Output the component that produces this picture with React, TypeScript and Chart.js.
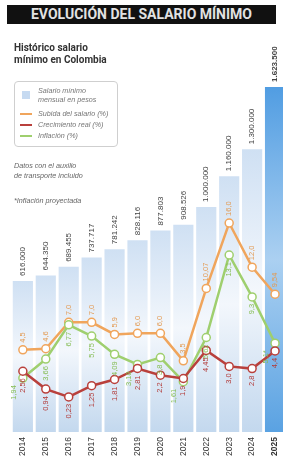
import React, { useEffect, useRef } from "react";
import { Chart, registerables } from "chart.js";

Chart.register(...registerables);

const years = ["2014", "2015", "2016", "2017", "2018", "2019", "2020", "2021", "2022", "2023", "2024", "2025"];
const salario = [616000, 644350, 689455, 737717, 781242, 828116, 877803, 908526, 1000000, 1160000, 1300000, 1623500];
const subida = [4.5, 4.6, 7.0, 7.0, 5.9, 6.0, 6.0, 3.5, 10.07, 16.0, 12.0, 9.54];
const crecimiento = [2.56, 0.94, 0.23, 1.25, 1.81, 2.81, 2.2, 1.9, 4.45, 3.0, 2.8, 4.4];
const inflacion = [1.94, 3.66, 6.77, 5.75, 4.09, 3.18, 3.8, 1.61, 5.62, 13.1, 9.3, 5.1];

const ORANGE = "#f0a55c";
const RED = "#b9403c";
const GREEN = "#9fcf6e";
const FONT = "'Liberation Sans Narrow', 'Liberation Sans', Arial, sans-serif";

const fmtMoney = (v: number) => String(v).replace(/\B(?=(\d{3})+(?!\d))/g, ".");
const fmtPct = (v: number) => (Number.isInteger(v) ? v.toFixed(1) : String(v)).replace(".", ",");

const Y_MIN = -168000;
const Y_MAX = 1898600;
const P_MIN = -2.95;
const P_MAX = 33.14;

const labelPlugin = {
  id: "rotLabels",
  afterDatasetsDraw(chart: any) {
    const ctx = chart.ctx;
    const redIdx = chart.data.datasets.findIndex((d: any) => d.kind === "red");
    const redMeta = redIdx >= 0 ? chart.getDatasetMeta(redIdx) : null;
    ctx.save();
    chart.data.datasets.forEach((ds: any, di: number) => {
      const meta = chart.getDatasetMeta(di);
      meta.data.forEach((el: any, i: number) => {
        const v = ds.data[i];
        let text: string;
        let x = el.x;
        let y: number;
        let align: CanvasTextAlign;
        if (ds.type === "bar") {
          text = fmtMoney(v);
          y = el.y - 5;
          align = "left";
          const last = i === ds.data.length - 1;
          ctx.font = (last ? "bold " : "") + "8px " + FONT;
          ctx.fillStyle = "#444";
        } else {
          text = fmtPct(v);
          if (ds.kind === "green" && i === ds.data.length - 1) text += "*";
          ctx.font = "7.5px " + FONT;
          ctx.fillStyle = ds.labelColor;
          if (ds.kind === "orange") {
            y = el.y - 7;
            align = "left";
          } else {
            y = el.y + 7;
            align = "right";
            if (ds.kind === "green" && redMeta) {
              const r = redMeta.data[i];
              if (r && Math.abs(r.y - el.y) < 10) x -= 9;
            }
          }
        }
        ctx.save();
        ctx.translate(x, y);
        ctx.rotate(-Math.PI / 2);
        ctx.textAlign = align!;
        ctx.textBaseline = "middle";
        ctx.fillText(text, 0, 0);
        ctx.restore();
      });
    });
    ctx.restore();
  },
};

function ChartCanvas() {
  const ref = useRef<HTMLCanvasElement | null>(null);
  useEffect(() => {
    const canvas = ref.current!;
    const lineDs = (data: number[], color: string, kind: string, labelColor: string, order: number) => ({
      type: "line",
      data,
      yAxisID: "y1",
      borderColor: color,
      borderWidth: 2.5,
      pointRadius: 4,
      pointBorderWidth: 1.5,
      pointBackgroundColor: "#ffffff",
      pointBorderColor: color,
      tension: 0,
      order,
      kind,
      labelColor,
    });
    const chart = new Chart(canvas, {
      type: "bar",
      data: {
        labels: years,
        datasets: [
          {
            type: "bar",
            data: salario,
            yAxisID: "y",
            base: Y_MIN,
            order: 10,
            categoryPercentage: 0.88,
            barPercentage: 1,
            borderWidth: 0,
            backgroundColor: (c: any) => {
              const chart = c.chart;
              const area = chart.chartArea;
              const last = c.dataIndex === salario.length - 1;
              if (!area || c.type !== "data") return last ? "#5ea3e2" : "#d4e3f3";
              const top = chart.scales.y.getPixelForValue(salario[c.dataIndex]);
              const g = chart.ctx.createLinearGradient(0, top, 0, area.bottom);
              if (last) {
                g.addColorStop(0, "#519de2");
                g.addColorStop(0.5, "#abd0f1");
                g.addColorStop(1, "#5aa2e2");
              } else {
                g.addColorStop(0, "#cfe0f3");
                g.addColorStop(0.5, "#f3f7fc");
                g.addColorStop(1, "#c3d8ee");
              }
              return g;
            },
          } as any,
          lineDs(subida, ORANGE, "orange", "#e39a52", 3) as any,
          lineDs(inflacion, GREEN, "green", "#86bd55", 2) as any,
          lineDs(crecimiento, RED, "red", "#b23a38", 1) as any,
        ],
      },
      options: {
        responsive: false,
        animation: false,
        devicePixelRatio: 1,
        layout: { padding: { left: 11.4, right: 2.4, top: 34, bottom: 0 } },
        plugins: { legend: { display: false }, tooltip: { enabled: false } },
        scales: {
          x: {
            grid: { display: false, drawTicks: false, tickLength: 0 },
            border: { display: false },
            afterFit: (s: any) => {
              s.height = 28;
            },
            ticks: {
              autoSkip: false,
              minRotation: 90,
              maxRotation: 90,
              padding: 5,
              color: "#333",
              font: (c: any) => ({
                family: FONT,
                size: 8.5,
                weight: c.index === years.length - 1 ? "bold" : "normal",
              }),
            },
          },
          y: { display: false, min: Y_MIN, max: Y_MAX },
          y1: { display: false, min: P_MIN, max: P_MAX },
        },
      } as any,
      plugins: [labelPlugin],
    });
    return () => chart.destroy();
  }, []);
  return (
    <canvas
      ref={ref}
      width={292}
      height={460}
      style={{ position: "absolute", left: 0, top: 0, width: 292, height: 460 }}
    />
  );
}

const legendItem = (swatch: React.ReactNode, text: React.ReactNode, top: number) => (
  <div style={{ position: "absolute", left: 0, top, width: 104, height: 12 }}>
    {swatch}
    <div style={{ position: "absolute", left: 23, top: 0, lineHeight: "9px", fontSize: 7.2, fontStyle: "italic", color: "#777" }}>
      {text}
    </div>
  </div>
);

const lineSwatch = (color: string) => (
  <div style={{ position: "absolute", left: 5, top: 3.5, width: 12, height: 2, background: color }} />
);

export default function App() {
  return (
    <div
      style={{
        position: "fixed",
        left: 0,
        top: 0,
        width: 283,
        height: 460,
        overflow: "hidden",
        background: "#fff",
        fontFamily: "'Liberation Sans', Arial, sans-serif",
      }}
    >
      <ChartCanvas />
      <div
        style={{
          position: "absolute",
          left: 7,
          top: 5,
          width: 269,
          height: 19,
          background: "#111",
          color: "#e2e2e2",
          fontFamily: "Roboto, sans-serif",
          fontWeight: 700,
          fontSize: 14,
          lineHeight: "19px",
          textAlign: "center",
        }}
      >
        EVOLUCIÓN DEL SALARIO MÍNIMO
      </div>
      <div
        style={{
          position: "absolute",
          left: 14,
          top: 42,
          fontFamily: "Roboto, sans-serif",
          fontWeight: 700,
          fontSize: 10,
          lineHeight: "12px",
          color: "#333",
        }}
      >
        Histórico salario
        <br />
        mínimo en Colombia
      </div>
      <div
        style={{
          position: "absolute",
          left: 14,
          top: 81,
          width: 104,
          height: 66,
          boxSizing: "border-box",
          border: "1px solid #cfcfcf",
          borderRadius: 4,
        }}
      >
        {legendItem(
          <div style={{ position: "absolute", left: 7, top: 5, width: 8, height: 8, background: "#c6daf1" }} />,
          <>
            Salario mínimo
            <br />
            mensual en pesos
          </>,
          4
        )}
        {legendItem(lineSwatch(ORANGE), "Subida del salario (%)", 27)}
        {legendItem(lineSwatch(RED), "Crecimiento real (%)", 38)}
        {legendItem(lineSwatch(GREEN), "Inflación (%)", 49)}
      </div>
      <div
        style={{
          position: "absolute",
          left: 14,
          top: 161,
          fontSize: 7.2,
          fontStyle: "italic",
          color: "#666",
          lineHeight: "10px",
        }}
      >
        Datos con el auxilio
        <br />
        de transporte incluido
      </div>
      <div
        style={{
          position: "absolute",
          left: 14,
          top: 196,
          fontSize: 7.2,
          fontStyle: "italic",
          color: "#666",
          lineHeight: "10px",
        }}
      >
        *Inflación proyectada
      </div>
    </div>
  );
}
